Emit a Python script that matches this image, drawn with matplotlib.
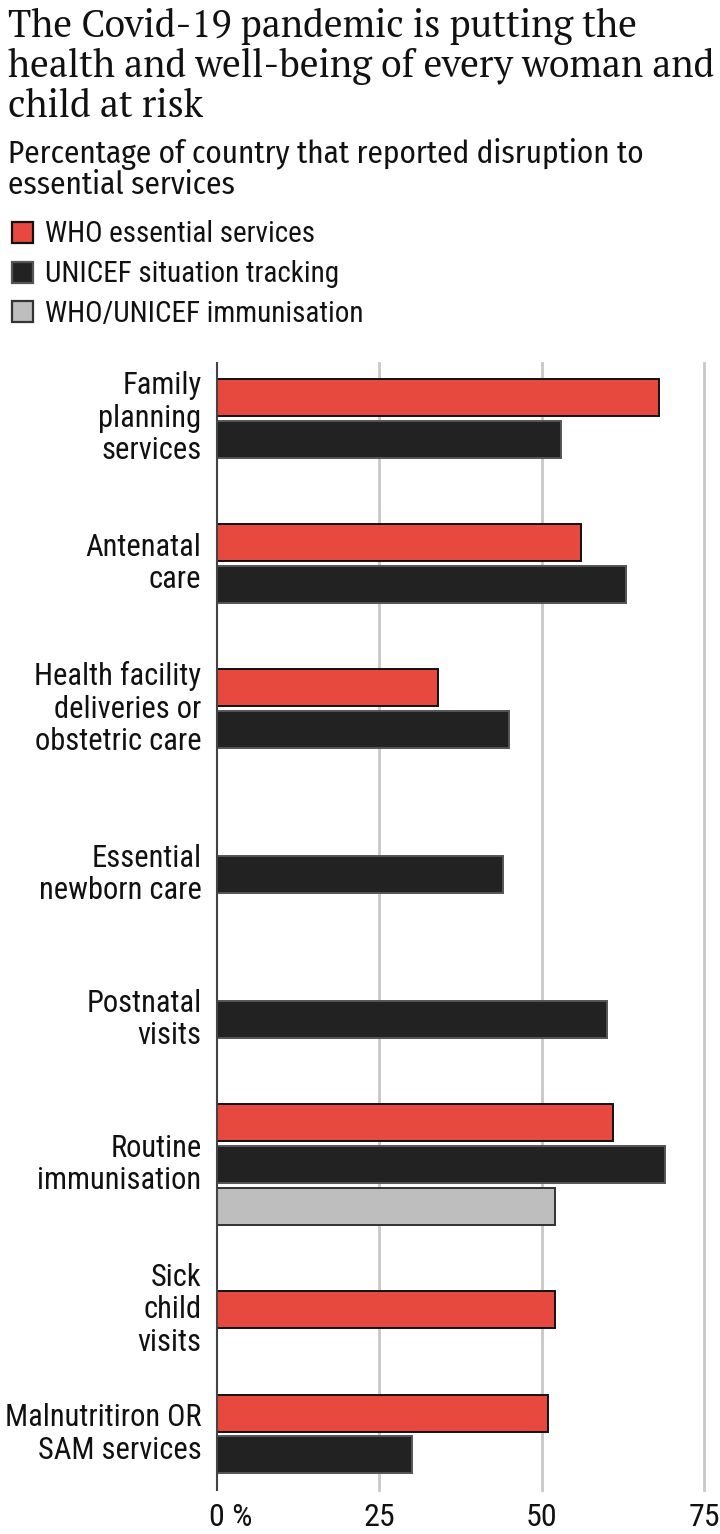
import matplotlib
matplotlib.use("Agg")
import matplotlib.pyplot as plt
from matplotlib.patches import Rectangle
from matplotlib.transforms import ScaledTranslation

SANS = ["Roboto Condensed", "PT Sans Narrow", "DejaVu Sans"]
SUB = ["Fira Sans Condensed", "Roboto Condensed", "DejaVu Sans"]
SERIF = ["PT Serif", "Liberation Serif", "DejaVu Serif"]
plt.rcParams["font.family"] = SANS

W, H = 720, 1534

categories = ["Family\nplanning\nservices", "Antenatal\ncare",
              "Health facility\ndeliveries or\nobstetric care",
              "Essential\nnewborn care", "Postnatal\nvisits",
              "Routine\nimmunisation", "Sick\nchild\nvisits",
              "Malnutritiron OR\nSAM services"]
who = [68, 56, 34, None, None, 61, 52, 51]
unicef = [53, 63, 45, 44, 60, 69, None, 30]
immunisation = [None, None, None, None, None, 52, None, None]

series = [("WHO essential services", who, "#e8493f", "#111111"),
          ("UNICEF situation tracking", unicef, "#222222", "#555555"),
          ("WHO/UNICEF immunisation", immunisation, "#bebebe", "#333333")]
xticks = [0, 25, 50, 75]
xticklabels = ["0 %", "25", "50", "75"]

title_lines = ["The Covid-19 pandemic is putting the",
               "health and well-being of every woman and",
               "child at risk"]
subtitle_lines = ["Percentage of country that reported disruption to",
                  "essential services"]


def fx(px):
    return px / W


def fy(py):
    return 1 - py / H


fig = plt.figure(figsize=(W / 100, H / 100), dpi=100)
ax = fig.add_axes([fx(216.7), fy(1490), fx(704) - fx(216.7), (1490 - 363) / H])

slot = 0.2874
bar_h = 0.255
label_pos = []
for i in range(len(categories)):
    present = [k for k, s in enumerate(series) if s[1][i] is not None]
    offs = {}
    for k in present:
        offs[k] = 0.0 if len(present) == 1 else (k - 1) * slot
    for k in present:
        name, vals, fc, ec = series[k]
        ax.barh(i + offs[k], vals[i], height=bar_h, color=fc,
                edgecolor=ec, linewidth=1.4, zorder=3)
    label_pos.append(i + sum(offs.values()) / len(offs))

ax.set_xlim(0, 75)
ax.set_ylim(7.242, -0.525)
ax.set_yticks(label_pos)
ax.set_yticklabels(categories, fontsize=22, ha="right", va="center",
                   multialignment="right", linespacing=1.15, color="#111111")
ax.set_xticks(xticks)
ax.set_xticklabels(xticklabels, fontsize=23, color="#111111")
ax.tick_params(length=0)
ax.tick_params(axis="x", pad=9)
ax.tick_params(axis="y", pad=11)
# "0 %": keep the zero under the axis line, let the sign hang to the right
zero = ax.get_xticklabels()[0]
zero.set_ha("left")
zero.set_transform(zero.get_transform() + ScaledTranslation(-8 / 100, 0, fig.dpi_scale_trans))
for s in ["top", "right", "bottom"]:
    ax.spines[s].set_visible(False)
ax.spines["left"].set_color("#444444")
ax.spines["left"].set_linewidth(1.5)
ax.spines["left"].set_zorder(4)
for t in xticks[1:]:
    ax.axvline(t, color="#c8c8c8", linewidth=2.0, zorder=1, clip_on=False)

# heading
for j, line in enumerate(title_lines):
    fig.text(fx(8), fy(36.7 + j * 40.3), line, family=SERIF, fontsize=27,
             va="baseline", ha="left", color="#111111")
for j, line in enumerate(subtitle_lines):
    fig.text(fx(8), fy(163 + j * 31), line, family=SUB, fontsize=22.5,
             va="baseline", ha="left", color="#111111")

# legend
for j, (name, vals, fc, ec) in enumerate(series):
    cy = 232.5 + j * 39.5
    fig.patches.append(Rectangle((fx(11.5), fy(cy + 10.5)), 21 / W, 21 / H,
                                 transform=fig.transFigure, facecolor=fc,
                                 edgecolor=ec, linewidth=1.6))
    fig.text(fx(45), fy(cy + 10), name, fontsize=21, va="baseline",
             ha="left", color="#111111")

fig.savefig("out.png", dpi=100)
